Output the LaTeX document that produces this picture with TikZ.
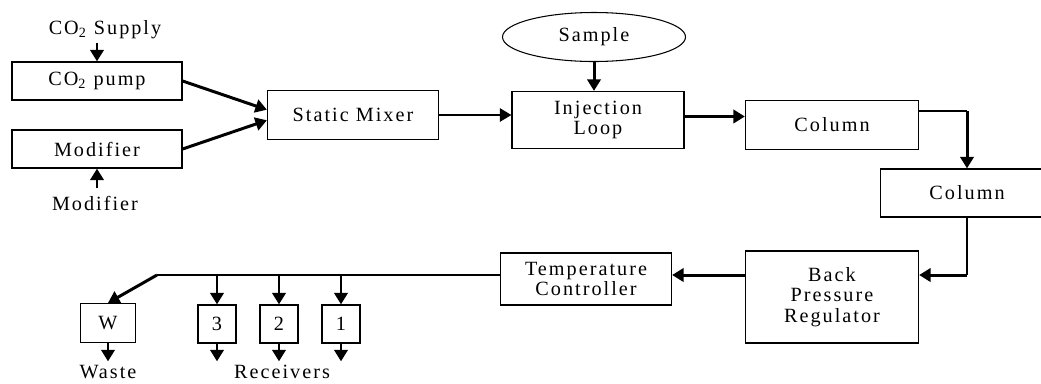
\documentclass[tikz,border=0pt]{standalone}
\usepackage{fontspec}
\setmainfont[LetterSpace=10]{Liberation Serif}
\usetikzlibrary{arrows.meta,shapes.geometric}

\begin{document}
\begin{tikzpicture}[x=0.02cm,y=-0.02cm,
every node/.style={font=\fontsize{11.5}{11.5}\selectfont,align=center,inner sep=0pt},
unit/.style={draw,line width=0.7pt},
flow/.style={line width=1.7pt,-{Triangle[length=6.5pt,width=7.5pt]}},
feed/.style={line width=1.1pt,-{Triangle[length=6.5pt,width=7.5pt]}},
pipe/.style={line width=0.8pt},
]
%\draw[help lines](0,0)grid(1041,383);
\useasboundingbox (0,0) rectangle (1041,383);

%Pumps and mixing
\node (supply) at (105,30) {CO\textsubscript{2} Supply};
\node[unit,minimum width=170*0.02cm,minimum height=38*0.02cm] (pump) at (97,81) {CO\textsubscript{2} pump};
\node[unit,minimum width=170*0.02cm,minimum height=38*0.02cm] (modbox) at (97,149) {Modifier};
\node (modin) at (95,203) {Modifier};
\node[unit,minimum width=171*0.02cm,minimum height=49*0.02cm] (mixer) at (353,115) {Static Mixer};

%Injection and columns
\node[draw,line width=0.6pt,ellipse,minimum width=183*0.02cm,minimum height=49*0.02cm] (sample) at (594,37) {Sample};
\node[unit,minimum width=172*0.02cm,minimum height=57*0.02cm] (inject) at (598,120) {Injection\\Loop};
\node[unit,minimum width=173*0.02cm,minimum height=49*0.02cm] (colA) at (832,125) {Column};
% runs past the right margin
\node[unit,minimum width=173*0.02cm,minimum height=48*0.02cm] (colB) at (967,193) {Column};

%Regulation
\node[unit,minimum width=173*0.02cm,minimum height=92*0.02cm] (bpr) at (832,297) {Back\\Pressure\\Regulator};
\node[unit,minimum width=171*0.02cm,minimum height=52*0.02cm] (tc) at (586,279) {Temperature\\Controller};

%Collection
\node[unit,minimum width=55*0.02cm,minimum height=39*0.02cm] (waste) at (108,323) {W};
\node[unit,minimum width=38*0.02cm,minimum height=38*0.02cm] (rcv3) at (217,324) {3};
\node[unit,minimum width=38*0.02cm,minimum height=38*0.02cm] (rcv2) at (279,324) {2};
\node[unit,minimum width=38*0.02cm,minimum height=38*0.02cm] (rcv1) at (341,324) {1};
\node (wastelbl) at (108,372) {Waste};
\node (rcvlbl) at (282,372) {Receivers};

\coordinate (bend1) at (967,111);
\coordinate (bend2) at (967,275);
\coordinate (split) at (157,275);

%Connections
\draw[flow,shorten <=2pt] (pump.north |- supply.south) -- (pump.north);
\draw[flow,shorten <=4pt] (modbox.south |- modin.north) -- (modbox.south);
\draw[flow] (pump.east) -- ([yshift=3pt]mixer.west);
\draw[flow] (modbox.east) -- ([yshift=-3pt]mixer.west);
\draw[feed] (mixer.east) -- (mixer.east -| inject.west);
\draw[flow] (sample.south) -- (sample.south |- inject.north);
\draw[flow] ([yshift=2pt]inject.east) -- ([yshift=2pt]inject.east -| colA.west);
\draw[pipe] (bend1 -| colA.east) -- (bend1);
\draw[flow] (bend1) -- (bend1 |- colB.north);
\draw[pipe] (bend1 |- colB.south) -- (bend2);
\draw[flow] (bend2) -- (bend2 -| bpr.east);
\draw[flow] (bend2 -| bpr.west) -- (bend2 -| tc.east);
\draw[pipe] (bend2 -| tc.west) -- (split);
\draw[flow] (split) -- (waste.north);
\draw[flow,shorten >=2pt] (waste.south) -- (wastelbl.north);
\foreach \r in {rcv3,rcv2,rcv1}{
  \draw[flow] (\r.north |- split) -- (\r.north);
  \draw[flow,shorten >=2pt] (\r.south) -- (\r.south |- rcvlbl.north);
}

\end{tikzpicture}
\end{document}
